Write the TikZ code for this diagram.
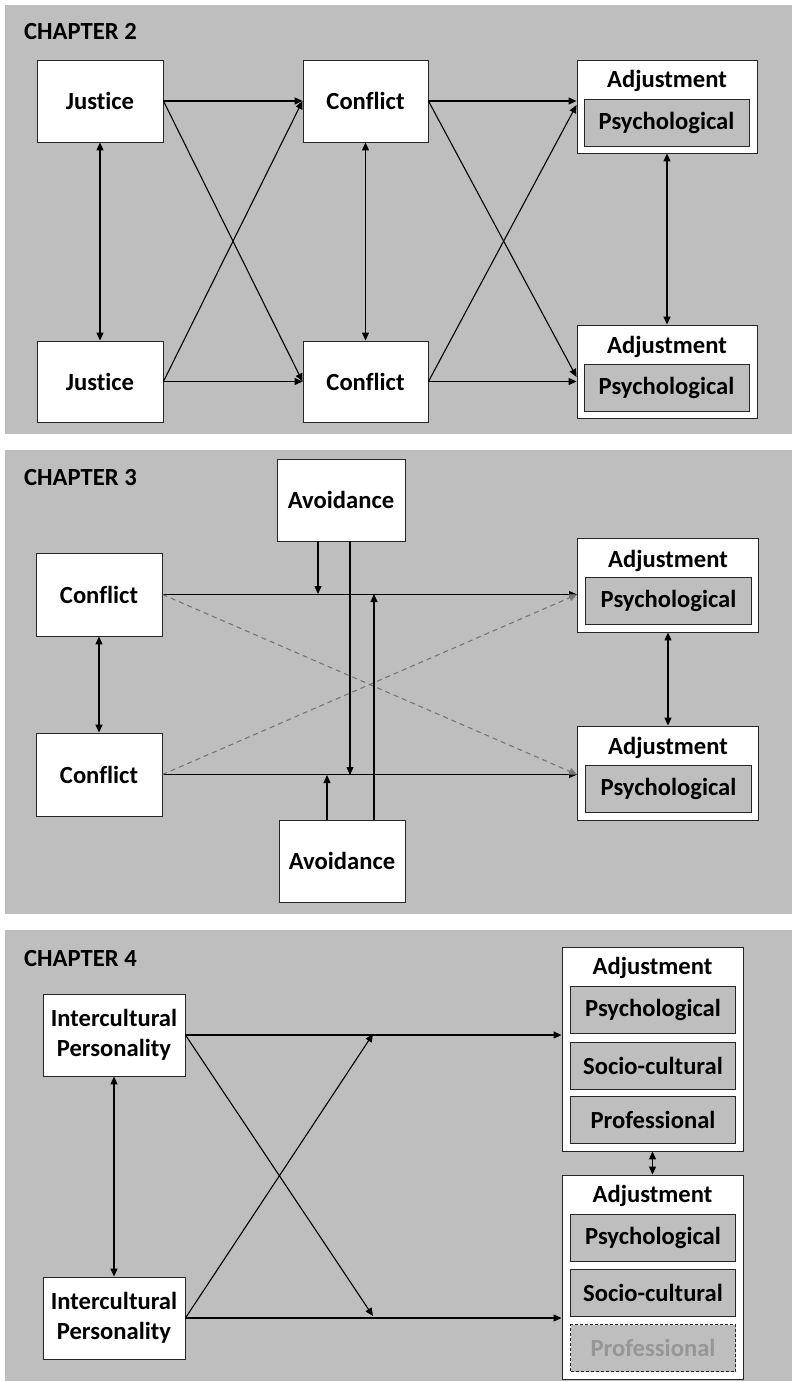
\documentclass[tikz,border=0pt]{standalone}
\usepackage{fontspec}
\setmainfont{Carlito}[Ligatures=NoCommon]
\usetikzlibrary{arrows.meta,calc}
\definecolor{bg}{RGB}{190,190,190}
\definecolor{dashgray}{RGB}{118,118,118}
\definecolor{fadetext}{RGB}{150,150,150}
\newcommand\myfont{\fontsize{24.7}{30}\selectfont\bfseries}
\tikzset{
  panel/.style={fill=bg, draw=none},
  box/.style={draw=black!85, fill=white, line width=0.9bp, inner sep=0pt, font=\myfont, align=center},
  outerbox/.style={draw=black!85, fill=white, line width=0.9bp, inner sep=0pt},
  inbox/.style={draw=black!85, fill=bg, line width=0.9bp, inner sep=0pt, font=\myfont, minimum width=165bp, minimum height=47bp},
  fadebox/.style={draw=black!85, fill=bg, line width=0.9bp, inner sep=0pt, font=\myfont, text=fadetext, dash pattern=on 3bp off 2bp, minimum width=165bp, minimum height=47bp},
  ttl/.style={font=\myfont, inner sep=0pt, anchor=base},
  chap/.style={font=\myfont, inner sep=0pt, anchor=base west},
  arr/.style={line width=1.1bp, -{Triangle[length=8bp,width=7bp]}},
  darr/.style={line width=1.1bp, {Triangle[length=8bp,width=7bp]}-{Triangle[length=8bp,width=7bp]}},
  dasharr/.style={line width=1.1bp, draw=dashgray, dash pattern=on 5bp off 4bp, -{Triangle[length=8bp,width=7bp,fill=dashgray]}},
}
\begin{document}
\begin{tikzpicture}[x=1bp,y=-1bp]
\useasboundingbox (0,0) rectangle (792,1382);
\fill[white] (0,0) rectangle (792,1382);
% panels
\path[panel] (5,5) rectangle (792,434);
\path[panel] (5,450) rectangle (792,914);
\path[panel] (5,930) rectangle (792,1381);

% ================= CHAPTER 2 =================
\node[chap] (t2) at (24,40) {CHAPTER 2};
\node[box, minimum width=126bp, minimum height=82bp] (j1) at (100,101) {Justice};
\node[box, minimum width=125bp, minimum height=82bp] (c1) at (365.5,101) {Conflict};
\node[box, minimum width=126bp, minimum height=81bp] (j2) at (100,381.5) {Justice};
\node[box, minimum width=125bp, minimum height=81bp] (c2) at (365.5,381.5) {Conflict};
\node[outerbox, minimum width=180bp, minimum height=93bp] (a1) at (667,106.5) {};
\node[ttl] (a1t) at (667,88) {Adjustment};
\node[inbox] (p1) at (666.5,122.5) {Psychological};
\node[outerbox, minimum width=180bp, minimum height=93bp] (a2) at (667,371.5) {};
\node[ttl] (a2t) at (667,353) {Adjustment};
\node[inbox] (p2) at (666.5,387.5) {Psychological};

\draw[arr] (j1.east) -- (c1.west);
\draw[arr] (j1.east) -- (c2.west);
\draw[arr] (j2.east) -- (c1.west);
\draw[arr] (j2.east) -- (c2.west);
\draw[arr] (c1.east) -- (c1.east -| a1.west);
\draw[arr] (c2.east) -- ($(a1.west)+(0,-1.5)$);
\draw[arr] (c1.east) -- ($(a2.west)+(0,5.5)$);
\draw[arr] (c2.east) -- (c2.east -| a2.west);
\draw[darr] (j1.south) -- (j2.north);
\draw[darr] (c1.south) -- (c2.north);
\draw[darr] (a1.south) -- (a2.north);

% ================= CHAPTER 3 =================
\node[chap] (t3) at (24,485) {CHAPTER 3};
\node[box, minimum width=126bp, minimum height=83bp] (k1) at (99,594.5) {Conflict};
\node[box, minimum width=126bp, minimum height=83bp] (k2) at (99,774.5) {Conflict};
\node[box, minimum width=128bp, minimum height=82bp] (v1) at (341,500) {Avoidance};
\node[box, minimum width=126bp, minimum height=82bp] (v2) at (342,861) {Avoidance};
\node[outerbox, minimum width=181bp, minimum height=94bp] (a3) at (668,585) {};
\node[ttl] (a3t) at (668,567) {Adjustment};
\node[inbox, minimum width=166bp] (p3) at (668.5,601) {Psychological};
\node[outerbox, minimum width=181bp, minimum height=94bp] (a4) at (668,773) {};
\node[ttl] (a4t) at (668,754) {Adjustment};
\node[inbox, minimum width=166bp] (p4) at (668.5,788.5) {Psychological};

\coordinate (m1) at (318,594);
\coordinate (m2) at (350,775);
\coordinate (m3) at (327,775);
\coordinate (m4) at (374,594);

\draw[arr] (k1.east) -- (k1.east -| a3.west);
\draw[arr] (k2.east) -- (k2.east -| a4.west);
\draw[dasharr] (k1.east) -- (k2.east -| a4.west);
\draw[dasharr] (k2.east) -- (k1.east -| a3.west);
\draw[arr] (v1.south -| m1) -- (m1);
\draw[arr] (v1.south -| m2) -- (m2);
\draw[arr] (v2.north -| m3) -- (m3);
\draw[arr] (v2.north -| m4) -- (m4);
\draw[darr] (k1.south) -- (k2.north);
\draw[darr] (a3.south) -- (a4.north);

% ================= CHAPTER 4 =================
\node[chap] (t4) at (24,966) {CHAPTER 4};
\node[box, minimum width=142bp, minimum height=82bp] (i1) at (114,1035) {Intercultural\\Personality};
\node[box, minimum width=142bp, minimum height=82bp] (i2) at (114,1318) {Intercultural\\Personality};
\node[outerbox, minimum width=181bp, minimum height=204bp] (a5) at (652.5,1049) {};
\node[ttl] (a5t) at (652.5,974) {Adjustment};
\node[inbox] (q1) at (653,1009.5) {Psychological};
\node[inbox] (q2) at (653,1065.5) {Socio-cultural};
\node[inbox] (q3) at (653,1119.5) {Professional};
\node[outerbox, minimum width=181bp, minimum height=204bp] (a6) at (652.5,1277) {};
\node[ttl] (a6t) at (652.5,1202) {Adjustment};
\node[inbox] (q4) at (653,1237.5) {Psychological};
\node[inbox] (q5) at (653,1293) {Socio-cultural};
\node[fadebox] (q6) at (653,1348) {Professional};

\coordinate (x1) at (373,1034);
\coordinate (x2) at (373,1316);
\draw[arr] (i1.east) -- (i1.east -| a5.west);
\draw[arr] (i2.east) -- (i2.east -| a6.west);
\draw[arr] (i2.east) -- (x1);
\draw[arr] (i1.east) -- (x2);
\draw[darr] (i1.south) -- (i2.north);
\draw[darr] (a5.south) -- (a6.north);
\end{tikzpicture}
\end{document}
